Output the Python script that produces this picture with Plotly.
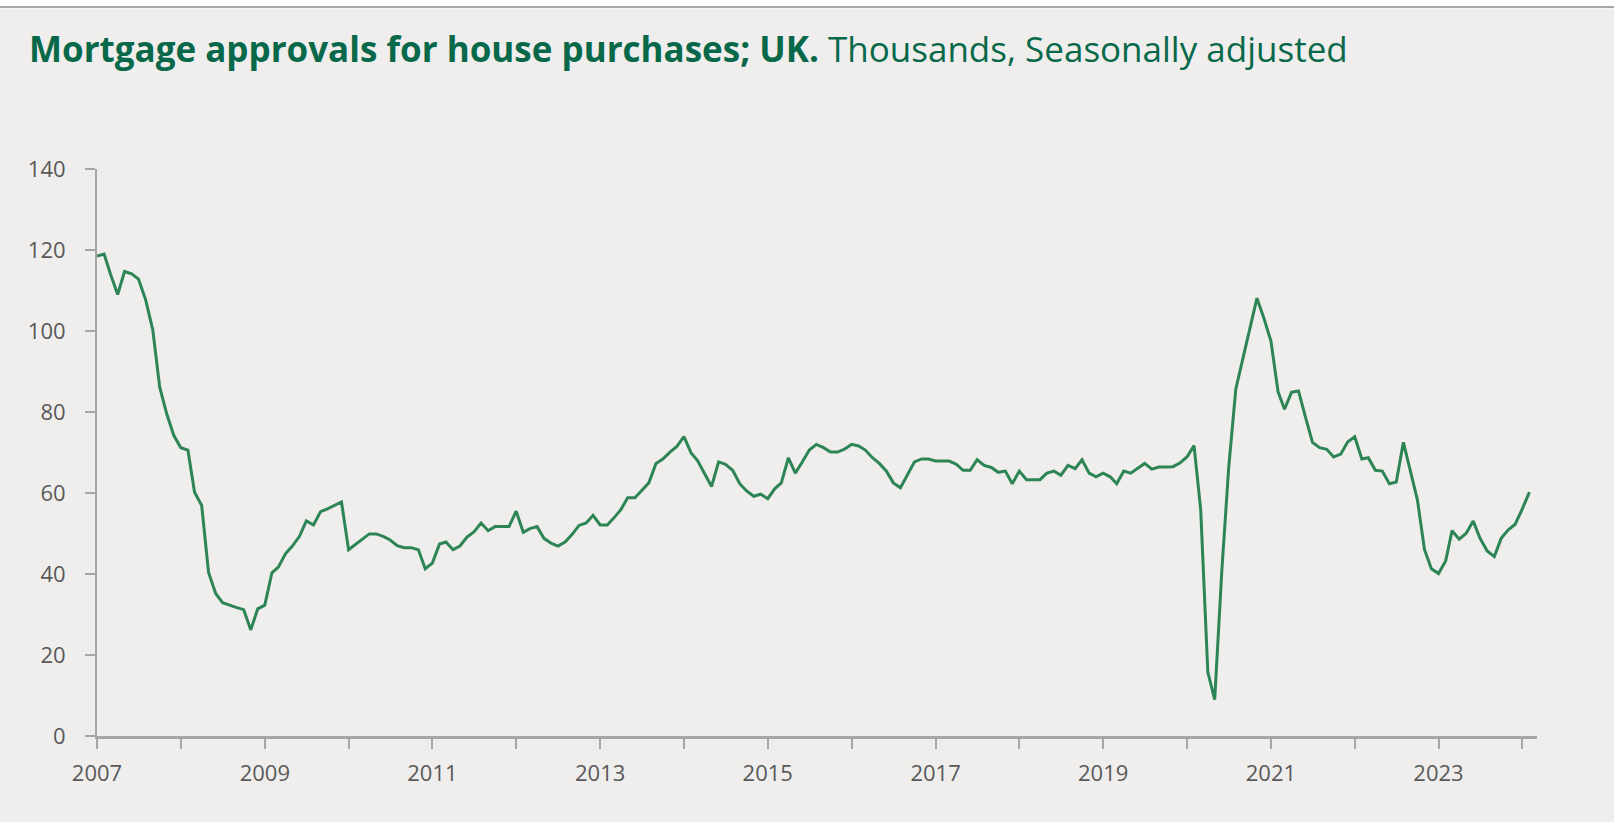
import pandas as pd
import plotly.graph_objects as go

# Monthly mortgage approvals for house purchases, UK (thousands, SA), Jan 2007 - Feb 2024
start_month = "2007-01-01"
approvals = [
    118.5, 119.0, 114.0, 109.0, 114.7, 114.1, 112.8, 107.7, 100.3, 86.2, 79.5, 74.3,   # 2007
    71.2, 70.6, 60.2, 56.9, 40.4, 35.2, 32.9, 32.2, 31.7, 31.2, 26.2, 31.4,            # 2008
    32.3, 40.3, 41.7, 45.0, 46.9, 49.3, 53.1, 52.1, 55.4, 56.1, 57.0, 57.8,            # 2009
    46.0, 47.4, 48.6, 49.9, 49.9, 49.3, 48.4, 47.0, 46.5, 46.5, 46.0, 41.3,            # 2010
    42.7, 47.4, 47.9, 46.0, 46.9, 49.1, 50.4, 52.6, 50.7, 51.7, 51.7, 51.7,            # 2011
    55.5, 50.3, 51.2, 51.7, 48.8, 47.6, 46.9, 47.9, 49.8, 52.0, 52.6, 54.5,            # 2012
    52.1, 52.1, 53.8, 55.9, 58.8, 58.8, 60.6, 62.5, 67.3, 68.4, 70.1, 71.5,            # 2013
    73.9, 69.9, 68.0, 64.9, 61.6, 67.7, 67.1, 65.6, 62.3, 60.5, 59.2, 59.7,            # 2014
    58.6, 61.1, 62.5, 68.7, 64.9, 67.7, 70.6, 72.0, 71.2, 70.1, 70.1, 70.8,            # 2015
    72.0, 71.6, 70.6, 68.7, 67.3, 65.4, 62.5, 61.3, 64.6, 67.7, 68.4, 68.4,            # 2016
    67.9, 67.9, 67.9, 67.1, 65.6, 65.6, 68.2, 66.8, 66.3, 65.1, 65.4, 62.3,            # 2017
    65.4, 63.3, 63.3, 63.3, 64.9, 65.4, 64.4, 66.8, 66.0, 68.2, 64.9, 64.0,            # 2018
    64.9, 64.0, 62.3, 65.4, 64.9, 66.1, 67.3, 65.9, 66.4, 66.4, 66.5, 67.4,            # 2019
    68.9, 71.7, 55.9, 15.8, 9.0, 40.8, 66.3, 85.7, 93.2, 100.8, 108.1, 103.2,          # 2020
    97.5, 85.0, 80.7, 84.9, 85.2, 78.6, 72.5, 71.2, 70.8, 68.9, 69.6, 72.6,            # 2021
    73.9, 68.4, 68.7, 65.6, 65.4, 62.3, 62.7, 72.5, 65.4, 58.3, 46.0, 41.3,            # 2022
    40.1, 43.2, 50.7, 48.6, 50.0, 53.1, 48.8, 45.7, 44.3, 48.8, 50.9, 52.3,            # 2023
    56.1, 60.2,                                                                        # 2024
]
months = pd.date_range(start_month, periods=len(approvals), freq="MS")

tick_years = list(range(2007, 2025))
tick_labels = [str(y) if (y - 2007) % 2 == 0 else "" for y in tick_years]
y_ticks = [0, 20, 40, 60, 80, 100, 120, 140]

BG = "#EFEEEC"
AXIS = "#A6A6A6"
LINE = "#2D8556"
TITLE = "#08684A"
TICKFONT = dict(family="Open Sans, sans-serif", size=22, color="#595959")

W, H = 1614, 822
L, R = 97.3, 1536.7
T, B = 169.0, 736.3

fig = go.Figure()
fig.add_trace(go.Scatter(
    x=months, y=approvals, mode="lines",
    line=dict(color=LINE, width=3), hoverinfo="x+y", showlegend=False,
))

def px_x(X):
    return (X - L) / (R - L)

def px_y(Y):
    return (B - Y) / (B - T)

fig.update_layout(
    width=W, height=H,
    margin=dict(l=L, r=W - R, t=T, b=H - B, pad=0, autoexpand=False),
    paper_bgcolor=BG, plot_bgcolor=BG,
    title=dict(
        text="<b>Mortgage approvals for house purchases; UK.</b> Thousands, Seasonally adjusted",
        x=29 / W, xanchor="left", xref="container",
        y=1 - 50 / H, yanchor="middle", yref="container",
        font=dict(family="Open Sans, sans-serif", size=35, color=TITLE),
    ),
    xaxis=dict(
        type="date",
        range=["2007-01-01", "2024-03-05"],
        tickvals=[f"{y}-01-01" for y in tick_years],
        ticktext=tick_labels,
        ticks="outside", ticklen=10, tickwidth=1.5, tickcolor=AXIS,
        showline=True, linecolor=AXIS, linewidth=2.5,
        showgrid=False, zeroline=False, automargin=False,
        tickfont=TICKFONT, ticklabelstandoff=6,
    ),
    yaxis=dict(
        range=[0, 140],
        tickvals=y_ticks,
        ticks="outside", ticklen=10, tickwidth=1.5, tickcolor=AXIS,
        showline=True, linecolor=AXIS, linewidth=2,
        showgrid=False, zeroline=False, automargin=False,
        tickfont=TICKFONT, ticklabelstandoff=15,
    ),
    shapes=[
        dict(type="rect", xref="paper", yref="paper",
             x0=px_x(-5), x1=px_x(W + 5), y0=px_y(8.5), y1=px_y(-5),
             fillcolor="white", line=dict(width=0), layer="above"),
        dict(type="line", xref="paper", yref="paper",
             x0=px_x(-5), x1=px_x(W + 5), y0=px_y(7), y1=px_y(7),
             line=dict(color="#8A8A8A", width=1.5), layer="above"),
    ],
)

fig.write_html(
    "out.html",
    config={"displayModeBar": False},
    post_script="document.body.style.margin='0';document.body.style.overflow='hidden';",
)
